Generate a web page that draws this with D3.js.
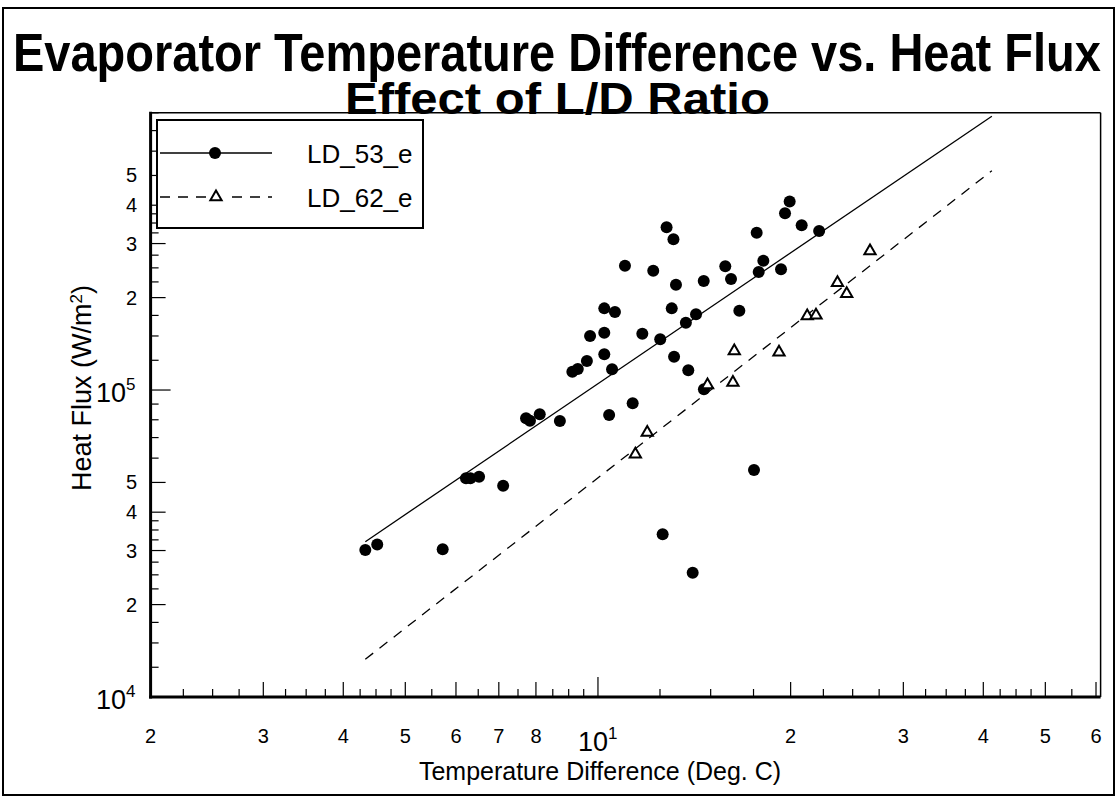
<!DOCTYPE html>
<html>
<head>
<meta charset="utf-8">
<script src="https://cdn.jsdelivr.net/npm/d3@7"></script>
<style>
  html, body { margin: 0; padding: 0; background: #fff; }
  svg { display: block; }
  text { font-family: "Liberation Sans", Arial, Helvetica, sans-serif; fill: #000; }
</style>
</head>
<body>
<svg id="chart" width="1117" height="797"></svg>
<script>
// Temperature difference (deg C) and heat flux (W/m^2), L/D = 53 evaporator
const tempDiff53 = [4.33, 4.52, 5.72, 6.22, 6.32, 6.52, 7.11, 7.72, 7.83, 8.11,
  8.72, 9.12, 9.30, 9.61, 9.72, 10.23, 10.23, 10.23, 10.41, 10.52,
  10.63, 11.02, 11.33, 11.73, 12.2, 12.51, 12.62, 12.80, 13.04, 13.12,
  13.15, 13.24, 13.72, 13.84, 14.06, 14.23, 14.63, 14.64, 15.81, 16.14,
  16.63, 17.53, 17.70, 17.83, 18.13, 19.32, 19.60, 19.93, 20.81, 22.16];
const heatFlux53 = [30100, 31400, 30300, 51600, 51600, 52200, 48800, 80900, 79400, 83400,
  79300, 114700, 117000, 124300, 150000, 184500, 153700, 130700, 82900, 116800,
  179500, 254000, 90500, 152500, 244700, 146300, 33900, 339000, 184500, 310000,
  128400, 220300, 165700, 115900, 25400, 176500, 226500, 100500, 253000, 230000,
  181300, 54900, 325300, 242300, 263700, 247500, 376400, 411000, 344000, 329600];

// L/D = 62 evaporator
const tempDiff62 = [11.44, 11.94, 14.83, 16.25, 16.33, 19.18, 21.23, 21.91, 23.67, 24.47, 26.61];
const heatFlux62 = [62200, 73300, 104600, 106600, 135000, 133700, 175500, 176500, 225300, 207400, 285800];

// Power-law fit lines (end points)
const fit53 = [[4.33, 32060], [41.25, 780000]];
const fit62 = [[4.33, 13270], [41.25, 518000]];

const seriesNames = ["LD_53_e", "LD_62_e"];

// Axis tick labels
const xTickValues = [2, 3, 4, 5, 6, 7, 8, 10, 20, 30, 40, 50, 60];
const yTickValues = [1e4, 2e4, 3e4, 4e4, 5e4, 1e5, 2e5, 3e5, 4e5, 5e5];

const titleLines = ["Evaporator Temperature Difference vs. Heat Flux", "Effect of L/D Ratio"];
const xTitle = "Temperature Difference (Deg. C)";

const svg = d3.select("#chart");

// outer frame
svg.append("rect").attr("x", 3).attr("y", 8).attr("width", 1111).attr("height", 787)
  .attr("fill", "none").attr("stroke", "#000").attr("stroke-width", 2);

// title: bold type squeezed horizontally to a condensed width
function condensedText(str, left, baseline, size, width) {
  const t = svg.append("text").attr("font-size", size).attr("font-weight", "bold").text(str);
  const w = t.node().getComputedTextLength();
  t.attr("transform", `translate(${left},${baseline}) scale(${width / w},1)`);
  return t;
}
condensedText(titleLines[0], 13, 71, 54, 1088);
condensedText(titleLines[1], 345, 114, 45, 425);

// scales
const x = d3.scaleLog().domain([2, 61]).range([150.6, 1100.6]);
const y = d3.scaleLog().domain([1e4, 8e5]).range([697, 112.8]);
const [xL, xR] = x.range();
const [yB, yT] = y.range();

svg.append("clipPath").attr("id", "plotClip")
  .append("rect").attr("x", xL).attr("y", yT).attr("width", xR - xL).attr("height", yB - yT);

// plot frame: thin top/right, heavy left/bottom
svg.append("line").attr("x1", xL).attr("x2", xR).attr("y1", yT).attr("y2", yT)
  .attr("stroke", "#000").attr("stroke-width", 1.5);
svg.append("line").attr("x1", xR).attr("x2", xR).attr("y1", yT).attr("y2", yB)
  .attr("stroke", "#000").attr("stroke-width", 1.5);

// minor tick mantissas
const xMinor = [];
for (let m = 1.25; m < 5; m += 0.25) xMinor.push(m);
[5, 5.5, 6, 6.5, 7, 7.5, 8, 8.5, 9, 9.5].forEach(m => xMinor.push(m));
const yMinor = [];
for (let m = 1.25; m < 4; m += 0.25) yMinor.push(m);
[4, 5, 6, 7, 8, 9].forEach(m => yMinor.push(m));

function tickSet(scale, mantissas, decades) {
  const [lo, hi] = scale.domain();
  const out = [];
  decades.forEach(d => {
    out.push(d);
    mantissas.forEach(m => out.push(m * d));
  });
  return out.filter(v => v >= lo * 0.999 && v <= hi * 1.001);
}

const isDecade = v => Math.abs(Math.log10(v) - Math.round(Math.log10(v))) < 1e-6;

// x ticks (pointing into the plot)
const xTicks = tickSet(x, xMinor, [1, 10, 100]);
const xLabelled = new Set(xTickValues.map(v => +v.toFixed(4)));
svg.append("g").selectAll("line").data(xTicks).join("line")
  .attr("x1", d => x(d)).attr("x2", d => x(d))
  .attr("y1", yB)
  .attr("y2", d => yB - (isDecade(d) ? 20 : xLabelled.has(+d.toFixed(4)) ? 15 : 8))
  .attr("stroke", "#000").attr("stroke-width", 1.2);

// y ticks
const yTicks = tickSet(y, yMinor, [1e4, 1e5]);
const yLabelled = new Set(yTickValues);
svg.append("g").selectAll("line").data(yTicks).join("line")
  .attr("y1", d => y(d)).attr("y2", d => y(d))
  .attr("x1", xL)
  .attr("x2", d => xL + (isDecade(d) ? 20 : yLabelled.has(Math.round(d)) ? 15 : 8))
  .attr("stroke", "#000").attr("stroke-width", 1.2);

// heavy axis lines
svg.append("line").attr("x1", xL).attr("x2", xL).attr("y1", yT - 1).attr("y2", yB + 1.5)
  .attr("stroke", "#000").attr("stroke-width", 3);
svg.append("line").attr("x1", xL - 1.5).attr("x2", xR).attr("y1", yB).attr("y2", yB)
  .attr("stroke", "#000").attr("stroke-width", 3);

// x tick labels
const xl = svg.append("g");
xTickValues.forEach(v => {
  if (isDecade(v)) {
    const t = xl.append("text").attr("x", x(v) - 20).attr("y", 751).attr("font-size", 27);
    t.append("tspan").text("10");
    t.append("tspan").attr("dy", -12).attr("font-size", 17).text(Math.round(Math.log10(v)));
  } else {
    const m = v / Math.pow(10, Math.floor(Math.log10(v)));
    xl.append("text").attr("x", x(v)).attr("y", 743).attr("font-size", 20)
      .attr("text-anchor", "middle").text(Math.round(m));
  }
});

// y tick labels
const yl = svg.append("g");
yTickValues.forEach(v => {
  if (isDecade(v)) {
    const t = yl.append("text").attr("x", 96).attr("y", y(v) + 12).attr("font-size", 27);
    t.append("tspan").text("10");
    t.append("tspan").attr("dy", -12).attr("font-size", 17).text(Math.round(Math.log10(v)));
  } else {
    const m = v / Math.pow(10, Math.floor(Math.log10(v)));
    yl.append("text").attr("x", 137).attr("y", y(v) + 7).attr("font-size", 20)
      .attr("text-anchor", "end").text(Math.round(m));
  }
});

// axis titles
svg.append("text").attr("x", 600).attr("y", 780).attr("font-size", 25)
  .attr("text-anchor", "middle").text(xTitle);
const yTitle = svg.append("text").attr("transform", "translate(91,388) rotate(-90)")
  .attr("font-size", 27).attr("text-anchor", "middle");
yTitle.append("tspan").text("Heat Flux (W/m");
yTitle.append("tspan").attr("dy", -9).attr("font-size", 17).text("2");
yTitle.append("tspan").attr("dy", 9).text(")");

// fit lines
const lineGen = d3.line().x(d => x(d[0])).y(d => y(d[1]));
const plot = svg.append("g").attr("clip-path", "url(#plotClip)");
plot.append("path").datum(fit53).attr("d", lineGen)
  .attr("fill", "none").attr("stroke", "#000").attr("stroke-width", 1.3);
plot.append("path").datum(fit62).attr("d", lineGen)
  .attr("fill", "none").attr("stroke", "#000").attr("stroke-width", 1.3)
  .attr("stroke-dasharray", "10,8");

// markers
const tri = d3.symbol().type(d3.symbolTriangle).size(55);
const pts53 = tempDiff53.map((t, i) => [t, heatFlux53[i]]);
const pts62 = tempDiff62.map((t, i) => [t, heatFlux62[i]]);
plot.append("g").selectAll("circle").data(pts53).join("circle")
  .attr("cx", d => x(d[0])).attr("cy", d => y(d[1])).attr("r", 6)
  .attr("fill", "#000");
plot.append("g").selectAll("path").data(pts62).join("path")
  .attr("d", tri)
  .attr("transform", d => `translate(${x(d[0])},${y(d[1]) + 1})`)
  .attr("fill", "#fff").attr("stroke", "#000").attr("stroke-width", 2);

// legend
const lg = svg.append("g");
lg.append("rect").attr("x", 157).attr("y", 120).attr("width", 266).attr("height", 108)
  .attr("fill", "#fff").attr("stroke", "#000").attr("stroke-width", 2);
lg.append("line").attr("x1", 160).attr("x2", 272).attr("y1", 153).attr("y2", 153)
  .attr("stroke", "#000").attr("stroke-width", 1.3);
lg.append("circle").attr("cx", 215).attr("cy", 153).attr("r", 6).attr("fill", "#000");
lg.append("line").attr("x1", 160).attr("x2", 272).attr("y1", 197).attr("y2", 197)
  .attr("stroke", "#000").attr("stroke-width", 1.3).attr("stroke-dasharray", "10,8");
lg.append("rect").attr("x", 206).attr("y", 189).attr("width", 20).attr("height", 16).attr("fill", "#fff");
lg.append("path").attr("d", tri).attr("transform", "translate(216,197)")
  .attr("fill", "#fff").attr("stroke", "#000").attr("stroke-width", 2);
lg.append("text").attr("x", 307).attr("y", 163).attr("font-size", 26).text(seriesNames[0]);
lg.append("text").attr("x", 307).attr("y", 207).attr("font-size", 26).text(seriesNames[1]);
</script>
</body>
</html>
